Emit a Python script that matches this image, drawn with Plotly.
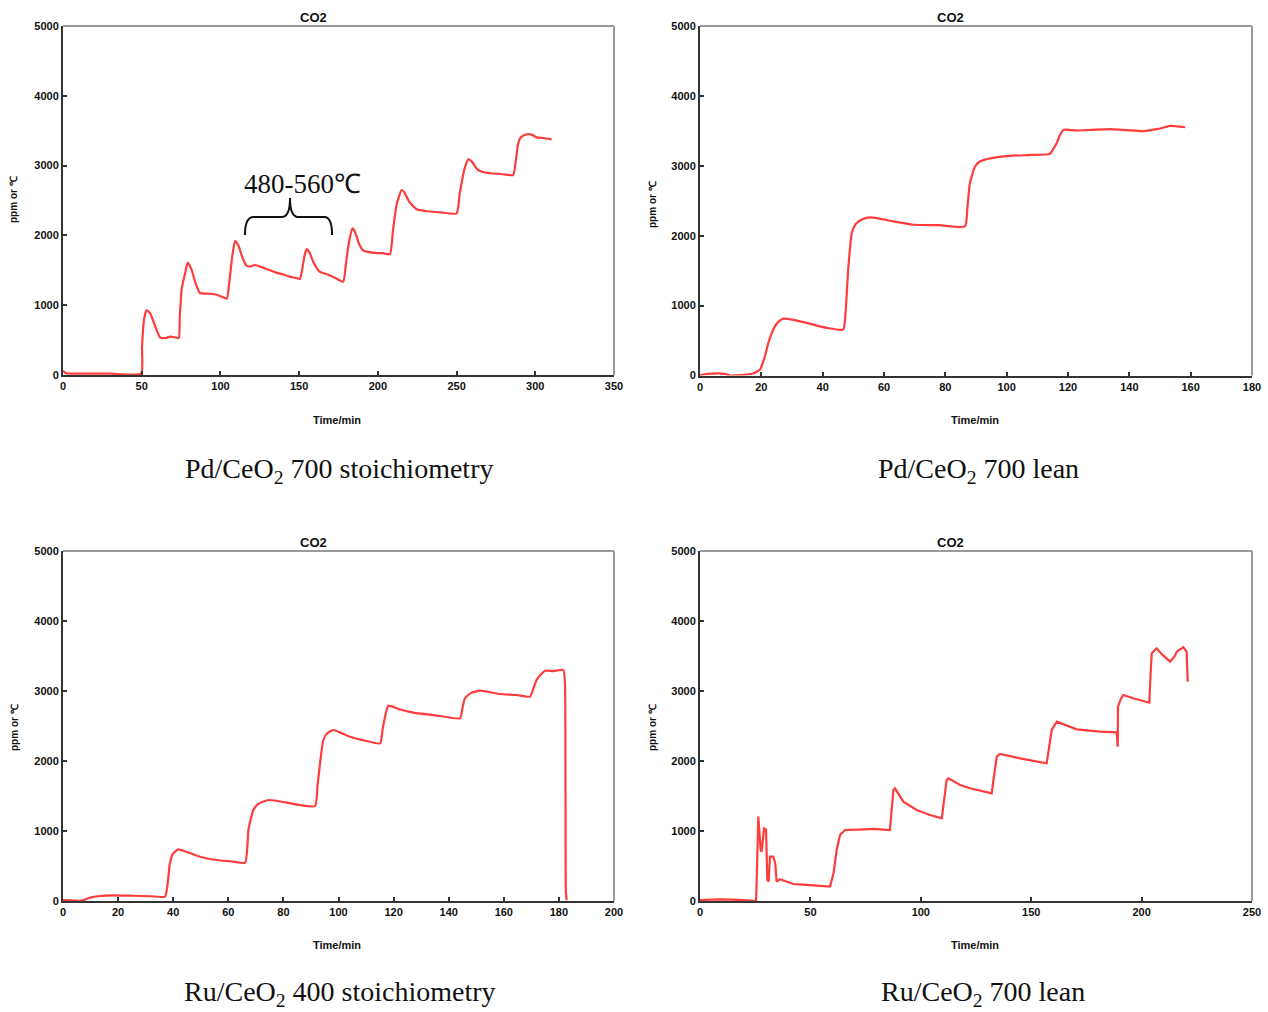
import plotly.graph_objects as go

W, H = 1268, 1012

# ---------------- data (time / min, CO2 ppm) ----------------
# Pd/CeO2 700 stoichiometry
t_pd_st = [0, 2, 10, 30, 49.6, 50.2, 51.5, 53.2, 55.5, 58.5, 61.6, 65, 68, 71, 73.5, 74.2, 75.5, 77.5, 79.2, 81.5, 84, 87, 92, 97.6, 101, 104, 105.5, 107.5, 109.3, 111.5, 114, 116.7, 119, 122, 128, 135, 140, 144, 148, 150.5, 152, 153.5, 154.8, 156.5, 159, 163, 168, 173, 178, 179.5, 181.5, 183.8, 185.5, 188, 190.5, 192.9, 198, 203, 207.7, 209.5, 212, 215.1, 217, 220, 224.6, 230, 240, 250, 252, 255, 257.5, 260, 263, 266, 272, 280, 286, 287.5, 289, 290.3, 292.5, 295.6, 298, 300.9, 305, 310.4]
v_pd_st = [60, 25, 20, 20, 20, 400, 800, 931, 880, 700, 540, 530, 549, 540, 530, 850, 1250, 1450, 1609, 1520, 1330, 1175, 1165, 1150, 1120, 1093, 1300, 1700, 1920, 1850, 1680, 1562, 1555, 1576, 1530, 1470, 1440, 1409, 1390, 1375, 1520, 1720, 1805, 1760, 1620, 1480, 1440, 1390, 1337, 1550, 1880, 2101, 2050, 1880, 1790, 1767, 1750, 1745, 1733, 2050, 2450, 2650, 2610, 2480, 2374, 2350, 2330, 2316, 2600, 2950, 3090, 3050, 2950, 2913, 2890, 2875, 2865, 3050, 3300, 3391, 3430, 3453, 3440, 3405, 3395, 3377]

# Pd/CeO2 700 lean
t_pd_ln = [0, 1, 4, 8, 9.8, 13, 17.3, 19.6, 21, 22.3, 23.9, 25, 26.1, 27.2, 30, 34.8, 41.3, 46.7, 47.3, 48.4, 49.5, 50.3, 51.1, 53, 55.4, 59, 63, 69.6, 78, 86.4, 87.2, 88, 89.7, 91.3, 95, 101.1, 108, 114.1, 115.2, 116.3, 117.4, 118.5, 122.8, 128, 133.7, 139, 144.6, 148.9, 151, 153.3, 155.5, 158.2]
v_pd_ln = [5, 14, 28, 24, 0, 4, 28, 86, 250, 467, 657, 740, 790, 814, 800, 752, 681, 657, 800, 1561, 2038, 2130, 2181, 2235, 2262, 2240, 2205, 2157, 2150, 2133, 2400, 2752, 2990, 3061, 3110, 3143, 3155, 3171, 3240, 3324, 3440, 3514, 3505, 3515, 3524, 3510, 3495, 3524, 3545, 3571, 3565, 3552]

# Ru/CeO2 400 stoichiometry
t_ru_st = [0, 3, 5, 6.2, 8, 9.8, 13.4, 18.3, 25, 32, 37, 38, 38.8, 40, 41.9, 45, 49.7, 55.8, 61.8, 66.1, 67.3, 68.2, 69.1, 70.9, 73, 75.1, 81.2, 86, 91.5, 92.4, 93.3, 94.5, 96, 98.1, 101, 104.2, 110.2, 115.1, 116, 116.9, 118.1, 122, 127.2, 136.9, 144.1, 145, 145.9, 148, 151.4, 158.6, 164.7, 169.5, 170.7, 171.9, 173.5, 175, 178, 181.6, 182.2, 182.5, 182.8]
v_ru_st = [14, 10, 5, 0, 20, 48, 71, 80, 75, 68, 62, 250, 538, 681, 738, 700, 633, 586, 562, 548, 1014, 1180, 1300, 1386, 1425, 1443, 1405, 1371, 1357, 1650, 1967, 2300, 2400, 2443, 2400, 2347, 2286, 2252, 2450, 2633, 2790, 2740, 2690, 2643, 2610, 2760, 2896, 2970, 3004, 2957, 2943, 2919, 3030, 3157, 3240, 3290, 3285, 3300, 3114, 157, 14]

# Ru/CeO2 700 lean
t_ru_ln = [0, 9.1, 18, 23.4, 25.4, 26, 26.4, 27.5, 27.9, 29, 29.9, 30.5, 31.1, 31.7, 33.2, 34.1, 34.7, 36.2, 42.3, 48.3, 58.9, 60.5, 61.9, 63.4, 65.7, 72, 78.5, 86, 86.8, 87.6, 88.3, 90, 92.1, 98.1, 104.2, 109.5, 110.6, 111.7, 112.5, 117.8, 122.3, 132.1, 133.2, 134.4, 135.9, 144.9, 157, 158.2, 159.3, 161.6, 170.6, 181.2, 188.7, 189.2, 189.3, 190.5, 191.7, 196.2, 203.5, 204, 204.6, 206.8, 209, 212.9, 215.1, 215.9, 218.9, 220.4, 220.9]
v_ru_ln = [14, 24, 15, 0, 0, 681, 1205, 729, 705, 1038, 1024, 300, 276, 633, 633, 538, 276, 310, 243, 229, 205, 400, 729, 943, 1014, 1020, 1029, 1014, 1300, 1586, 1610, 1520, 1419, 1300, 1229, 1181, 1450, 1729, 1752, 1657, 1610, 1538, 1800, 2062, 2100, 2038, 1967, 2200, 2443, 2562, 2452, 2419, 2410, 2205, 2776, 2880, 2943, 2896, 2833, 3200, 3538, 3610, 3530, 3419, 3500, 3562, 3624, 3562, 3133]

captions = ["Pd/CeO<sub>2</sub> 700 stoichiometry", "Pd/CeO<sub>2</sub> 700 lean",
            "Ru/CeO<sub>2</sub> 400 stoichiometry", "Ru/CeO<sub>2</sub> 700 lean"]
panel_title = "CO2"
y_title = "ppm or ℃"
x_title = "Time/min"
y_ticks = [0, 1000, 2000, 3000, 4000, 5000]
x_ranges = [350, 180, 200, 250]
x_dticks = [50, 20, 20, 50]
temp_label = "480-560℃"

series = [(t_pd_st, v_pd_st), (t_pd_ln, v_pd_ln), (t_ru_st, v_ru_st), (t_ru_ln, v_ru_ln)]
line_shapes = ["spline", "spline", "spline", "linear"]

# ---------------- layout geometry (pixels) ----------------
panels_px = [  # x0, x1, ytop, ybottom
    (63, 614, 26, 375),
    (700, 1252, 26, 375.5),
    (63, 614, 551, 901),
    (700, 1252, 551, 901),
]
title_px = [(313, 17), (950, 17), (313, 542), (950, 542)]
ytitle_px = [(14, 200), (652, 205), (14, 728), (652, 728)]
xtitle_px = [(337, 420), (975, 420), (337, 945), (975, 945)]
caption_px = [(339, 470), (978, 470), (340, 993), (983, 993)]

def px2x(p):
    return p / W

def py2y(p):
    return 1 - p / H

fig = go.Figure()
RED = "#ff3c3c"
tickfont = dict(family="Liberation Sans, Arial", size=11, color="#111", weight="bold")

for i, ((t, v), (x0, x1, yt, yb)) in enumerate(zip(series, panels_px)):
    n = "" if i == 0 else str(i + 1)
    fig.add_trace(go.Scatter(x=t, y=v, mode="lines",
                             line=dict(color=RED, width=2.2, shape=line_shapes[i], smoothing=0.5),
                             xaxis="x" + n, yaxis="y" + n, showlegend=False,
                             hoverinfo="skip"))
    fig.update_layout(**{
        "xaxis" + n: dict(domain=[px2x(x0), px2x(x1)], range=[0, x_ranges[i]],
                          dtick=x_dticks[i], tick0=0, anchor="y" + n, automargin=False,
                          showline=True, linecolor="#333", linewidth=2,
                          ticks="inside", ticklen=4, tickwidth=1.5, tickcolor="#333",
                          showgrid=False, zeroline=False, tickfont=tickfont,
                          fixedrange=True),
        "yaxis" + n: dict(domain=[py2y(yb), py2y(yt)], range=[0, 5000],
                          tickvals=y_ticks, anchor="x" + n, automargin=False,
                          showline=True, linecolor="#333", linewidth=2,
                          ticks="inside", ticklen=4, tickwidth=1.5, tickcolor="#333",
                          showgrid=False, zeroline=False, tickfont=tickfont,
                          fixedrange=True),
    })
    xr = "x" + n + " domain"
    yr = "y" + n + " domain"
    fig.add_shape(type="line", xref=xr, yref=yr, x0=0, x1=1, y0=1, y1=1,
                  line=dict(color="#9a9a9a", width=2))
    fig.add_shape(type="line", xref=xr, yref=yr, x0=1, x1=1, y0=0, y1=1,
                  line=dict(color="#9a9a9a", width=2))
    # panel annotations
    fig.add_annotation(text=panel_title, xref="paper", yref="paper",
                       x=px2x(title_px[i][0]), y=py2y(title_px[i][1]),
                       showarrow=False, xanchor="center", yanchor="middle",
                       font=dict(family="Liberation Sans, Arial", size=13, color="#111", weight="bold"))
    fig.add_annotation(text=y_title, xref="paper", yref="paper", textangle=-90,
                       x=px2x(ytitle_px[i][0]), y=py2y(ytitle_px[i][1]),
                       showarrow=False, xanchor="center", yanchor="middle",
                       font=dict(family="Liberation Sans, Arial", size=10, color="#111", weight="bold"))
    fig.add_annotation(text=x_title, xref="paper", yref="paper",
                       x=px2x(xtitle_px[i][0]), y=py2y(xtitle_px[i][1]),
                       showarrow=False, xanchor="center", yanchor="middle",
                       font=dict(family="Liberation Sans, Arial", size=11, color="#111", weight="bold"))
    fig.add_annotation(text=captions[i], xref="paper", yref="paper",
                       x=px2x(caption_px[i][0]), y=py2y(caption_px[i][1]),
                       showarrow=False, xanchor="center", yanchor="middle",
                       font=dict(family="Liberation Serif, Times New Roman", size=28, color="#111"))

# temperature annotation with curly brace on first panel (data coordinates)
fig.add_annotation(text=temp_label, xref="x", yref="y", x=152, y=2740,
                   showarrow=False, xanchor="center", yanchor="middle",
                   font=dict(family="Liberation Serif, Times New Roman", size=27, color="#111"))
brace = ("M 115.6,2006 Q 115.6,2264 121,2264 L 139,2264 Q 144.2,2264 144.2,2536 "
         "Q 144.2,2264 149.4,2264 L 166,2264 Q 170.9,2264 170.9,2006")
fig.add_shape(type="path", xref="x", yref="y", path=brace,
              line=dict(color="#111", width=2))

fig.update_layout(width=W, height=H, margin=dict(l=0, r=0, t=0, b=0),
                  paper_bgcolor="white", plot_bgcolor="white")

fig.write_html("out.html", config={"displayModeBar": False})
